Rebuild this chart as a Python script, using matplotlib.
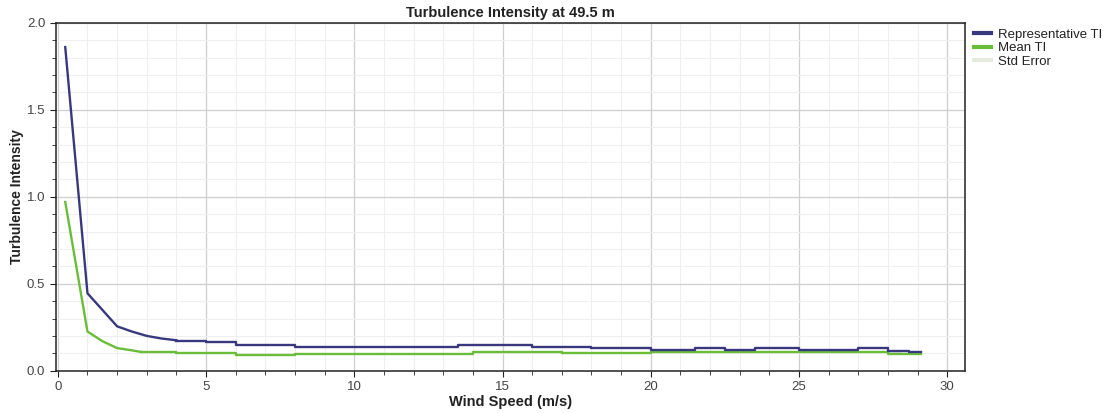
import numpy as np
import matplotlib
matplotlib.use("Agg")
import matplotlib.pyplot as plt
from matplotlib.ticker import MultipleLocator

plt.rcParams["font.family"] = ["Liberation Sans", "DejaVu Sans"]

# low wind speed part (drawn as straight segments)
ramp_ws = [0.25, 1.0, 1.5, 2.0, 2.5, 3.0, 3.5, 4.0]
ramp_rep = [1.86, 0.445, 0.35, 0.255, 0.225, 0.20, 0.185, 0.175]
ramp_mean_ws = [0.25, 1.0, 1.5, 2.0, 2.5, 2.8]
ramp_mean = [0.97, 0.225, 0.17, 0.13, 0.117, 0.108]

# higher wind speed part (binned, drawn as steps)
rep_ws = [4.0, 5.0, 6.0, 8.0, 13.5, 16.0, 18.0, 20.0, 21.5, 22.5, 23.5, 25.0, 27.0, 28.0, 28.7, 29.1]
rep_ti = [0.172, 0.165, 0.147, 0.136, 0.150, 0.136, 0.128, 0.120, 0.128, 0.120, 0.128, 0.120, 0.128, 0.116, 0.106, 0.106]
mean_ws = [2.8, 4.0, 6.0, 8.0, 14.0, 17.0, 20.0, 28.0, 29.1]
mean_ti = [0.108, 0.100, 0.091, 0.097, 0.108, 0.100, 0.105, 0.095, 0.095]
err_ws = [28.0, 28.4]
err_ti = [0.110, 0.110]

fig = plt.figure(figsize=(11.15, 4.13), dpi=100)
ax = fig.add_axes([0.05, 0.1024, 0.8155, 0.8426])

blue = "#38387f"
green = "#6abd3a"

ax.plot(err_ws, err_ti, color="#e4eadc", lw=1.5, drawstyle="steps-post", label="Std Error", zorder=2)
ax.plot(ramp_mean_ws, ramp_mean, color=green, lw=1.7, zorder=3)
ax.plot(mean_ws, mean_ti, color=green, lw=1.7, drawstyle="steps-post", label="Mean TI", zorder=3)
ax.plot(ramp_ws, ramp_rep, color=blue, lw=1.7, zorder=4)
ax.plot(rep_ws, rep_ti, color=blue, lw=1.7, drawstyle="steps-post", label="Representative TI", zorder=4)

ax.set_xlim(-0.07, 30.6)
ax.set_ylim(0, 2.0)
ax.xaxis.set_major_locator(MultipleLocator(5))
ax.xaxis.set_minor_locator(MultipleLocator(1))
ax.yaxis.set_major_locator(MultipleLocator(0.5))
ax.yaxis.set_minor_locator(MultipleLocator(0.1))
ax.yaxis.set_major_formatter(matplotlib.ticker.FormatStrFormatter("%.1f"))
ax.grid(which="major", color="#cfcfcf", lw=0.9)
ax.grid(which="minor", color="#efefef", lw=0.8)
ax.set_axisbelow(True)

ax.tick_params(which="both", direction="out", colors="#222222", labelcolor="#444444", labelsize=9.5)
ax.tick_params(which="major", length=4)
ax.tick_params(which="minor", length=3)
for s in ax.spines.values():
    s.set_color("#222222")
    s.set_linewidth(1.1)

ax.set_title("Turbulence Intensity at 49.5 m", fontsize=10.5, fontweight="bold", color="#222222", pad=4)
ax.set_xlabel("Wind Speed (m/s)", fontsize=10.5, fontweight="bold", color="#222222", labelpad=1)
ax.set_ylabel("Turbulence Intensity", fontsize=10, fontweight="bold", color="#222222", labelpad=2)

handles, labels = ax.get_legend_handles_labels()
order = [2, 1, 0]
leg = ax.legend([handles[i] for i in order], [labels[i] for i in order],
                loc="upper left", bbox_to_anchor=(1.0, 1.01), frameon=False,
                fontsize=9.5, handlelength=1.3, handletextpad=0.5, labelspacing=0.1,
                borderaxespad=0.3)
for t in leg.get_texts():
    t.set_color("#222222")
for h in leg.get_lines():
    h.set_linewidth(3)

fig.savefig("out.png", dpi=100)
